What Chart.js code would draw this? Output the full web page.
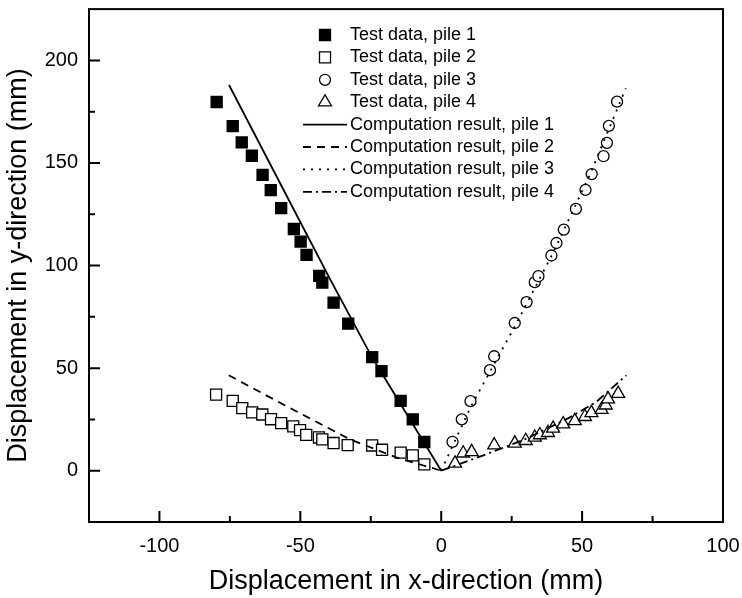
<!DOCTYPE html>
<html>
<head>
<meta charset="utf-8">
<title>Pile displacement</title>
<script src="https://cdn.jsdelivr.net/npm/chart.js@4.4.1/dist/chart.umd.min.js"></script>
<style>
  html, body { margin: 0; padding: 0; background: #fff; }
  canvas { display: block; }
</style>
</head>
<body>
<canvas id="chart" width="742" height="598"></canvas>
<script>
// measured test data (mm)
const pile1X = [-79.7, -74.0, -70.8, -67.2, -63.4, -60.5, -56.8, -52.3, -49.9, -47.8, -43.3, -42.2, -38.2, -33.0, -24.5, -21.2, -14.4, -10.1, -6.0];
const pile1Y = [179.7, 168.0, 160.0, 153.5, 144.2, 136.8, 128.0, 117.8, 111.7, 105.2, 95.0, 91.7, 81.9, 71.7, 55.4, 48.5, 34.0, 25.0, 14.0];
const pile2X = [-79.9, -74.0, -70.6, -67.1, -63.5, -60.4, -56.8, -52.5, -50.1, -47.9, -43.4, -42.2, -38.2, -33.2, -24.5, -21.0, -14.4, -10.1, -6.0];
const pile2Y = [37.1, 34.0, 30.5, 28.4, 27.4, 25.1, 23.2, 21.6, 19.8, 17.5, 16.2, 15.3, 13.5, 12.5, 12.3, 10.2, 8.8, 7.5, 3.1];
const pile3X = [4.0, 7.3, 10.4, 17.3, 18.8, 26.1, 30.3, 33.2, 34.5, 39.1, 40.9, 43.5, 47.8, 51.2, 53.4, 57.6, 58.8, 59.5, 62.4];
const pile3Y = [14.1, 25.0, 33.9, 49.0, 55.8, 72.0, 82.2, 91.9, 94.8, 104.9, 111.0, 117.5, 127.6, 136.9, 144.6, 153.3, 159.8, 168.1, 179.9];
const pile4X = [4.9, 7.8, 10.8, 18.8, 26.1, 30.0, 33.2, 35.0, 37.9, 39.7, 43.3, 47.4, 51.0, 53.3, 56.9, 58.4, 59.2, 62.8];
const pile4Y = [3.6, 8.5, 9.2, 12.5, 13.3, 14.6, 16.2, 17.4, 18.5, 20.6, 22.7, 24.3, 26.3, 28.2, 29.8, 31.9, 34.9, 37.6];

// computed curves
const comp1X = [-75.3, -52.7, -39.5, -24.6, 0];
const comp1Y = [188.0, 128.3, 93.5, 55.4, 0];
const comp2X = [-75.4, -54.0, -32.4, -16.0, 0];
const comp2Y = [46.5, 30.8, 15.3, 6.5, 0];
const comp3X = [0, 10.4, 26.0, 40.0, 53.0, 65.5];
const comp3Y = [0, 31.0, 70.0, 107.0, 145.0, 186.4];
const comp4X = [0, 15.0, 30.0, 45.0, 55.0, 65.7];
const comp4Y = [0, 7.5, 15.5, 25.5, 33.5, 46.5];

const xTicks = [-100, -50, 0, 50, 100];
const xMinorTicks = [-75, -25, 25, 75];
const yTicks = [0, 50, 100, 150, 200];
const yMinorTicks = [25, 75, 125, 175];

const legendLabels = [
  'Test data, pile 1', 'Test data, pile 2', 'Test data, pile 3', 'Test data, pile 4',
  'Computation result, pile 1', 'Computation result, pile 2',
  'Computation result, pile 3', 'Computation result, pile 4'
];

Chart.defaults.font.family = "'Liberation Sans', Arial, sans-serif";
Chart.defaults.color = '#000';

const toPoints = (xs, ys) => xs.map((x, i) => ({ x: x, y: ys[i] }));

function markerSet(label, xs, ys, style, radius, fill) {
  return {
    label: label,
    data: toPoints(xs, ys),
    showLine: false,
    pointStyle: style,
    pointRadius: radius,
    pointBackgroundColor: fill,
    pointBorderColor: '#000',
    pointBorderWidth: 1.3,
    order: 2
  };
}

function lineSet(label, xs, ys, dash) {
  return {
    label: label,
    data: toPoints(xs, ys),
    showLine: true,
    fill: false,
    pointRadius: 0,
    borderColor: '#000',
    borderWidth: 1.8,
    borderDash: dash,
    tension: 0,
    order: 1
  };
}

// legend drawn inside the plot, markers and line samples taken from the datasets
const legendBox = {
  id: 'legendBox',
  afterDatasetsDraw(chart, args, opts) {
    const ctx = chart.ctx;
    ctx.save();
    ctx.font = opts.fontSize + 'px ' + Chart.defaults.font.family;
    ctx.textBaseline = 'middle';
    chart.data.datasets.forEach((ds, i) => {
      const y = opts.top + i * opts.rowHeight;
      ctx.strokeStyle = '#000';
      if (ds.showLine) {
        ctx.lineWidth = ds.borderWidth;
        ctx.setLineDash(ds.borderDash || []);
        ctx.beginPath();
        ctx.moveTo(opts.lineStart, y);
        ctx.lineTo(opts.lineEnd, y);
        ctx.stroke();
        ctx.setLineDash([]);
      } else {
        ctx.fillStyle = ds.pointBackgroundColor;
        ctx.lineWidth = ds.pointBorderWidth;
        Chart.helpers.drawPoint(ctx, {
          pointStyle: ds.pointStyle,
          radius: ds.pointRadius,
          rotation: 0,
          borderWidth: ds.pointBorderWidth
        }, opts.markerX, y);
      }
      ctx.fillStyle = '#000';
      ctx.fillText(ds.label, opts.textX, y);
    });
    ctx.restore();
  }
};

// box frame with inward ticks
const frameTicks = {
  id: 'frameTicks',
  afterDraw(chart) {
    const ctx = chart.ctx;
    const a = chart.chartArea;
    const x = chart.scales.x;
    const y = chart.scales.y;
    ctx.save();
    ctx.strokeStyle = '#000';
    ctx.lineWidth = 2;
    ctx.strokeRect(a.left, a.top, a.right - a.left, a.bottom - a.top);
    ctx.beginPath();
    xTicks.forEach(v => { const p = x.getPixelForValue(v); ctx.moveTo(p, a.bottom); ctx.lineTo(p, a.bottom - 11); });
    xMinorTicks.forEach(v => { const p = x.getPixelForValue(v); ctx.moveTo(p, a.bottom); ctx.lineTo(p, a.bottom - 6); });
    yTicks.forEach(v => { const p = y.getPixelForValue(v); ctx.moveTo(a.left, p); ctx.lineTo(a.left + 11, p); });
    yMinorTicks.forEach(v => { const p = y.getPixelForValue(v); ctx.moveTo(a.left, p); ctx.lineTo(a.left + 6, p); });
    ctx.stroke();
    ctx.restore();
  }
};

new Chart(document.getElementById('chart'), {
  type: 'scatter',
  data: {
    datasets: [
      markerSet(legendLabels[0], pile1X, pile1Y, 'rect', 7.8, '#000'),
      markerSet(legendLabels[1], pile2X, pile2Y, 'rect', 7.8, '#fff'),
      markerSet(legendLabels[2], pile3X, pile3Y, 'circle', 5.5, '#fff'),
      markerSet(legendLabels[3], pile4X, pile4Y, 'triangle', 7.5, '#fff'),
      lineSet(legendLabels[4], comp1X, comp1Y, []),
      lineSet(legendLabels[5], comp2X, comp2Y, [8, 6]),
      lineSet(legendLabels[6], comp3X, comp3Y, [2, 6]),
      lineSet(legendLabels[7], comp4X, comp4Y, [9, 4, 2, 4])
    ]
  },
  options: {
    responsive: false,
    animation: false,
    devicePixelRatio: 1,
    layout: { padding: { left: 0, top: 7, right: 19, bottom: 0 } },
    plugins: {
      legend: { display: false },
      tooltip: { enabled: false },
      legendBox: { top: 35, rowHeight: 22.4, markerX: 325, lineStart: 303, lineEnd: 347, textX: 350, fontSize: 18 }
    },
    scales: {
      x: {
        type: 'linear',
        min: -125,
        max: 100,
        afterBuildTicks: s => { s.ticks = xTicks.map(v => ({ value: v })); },
        afterFit: s => { s.height = 76; s.paddingLeft = 0; s.paddingRight = 0; },
        grid: { display: false, drawTicks: false },
        border: { display: false },
        ticks: { font: { size: 20 }, padding: 12, maxRotation: 0, autoSkip: false },
        title: { display: true, text: 'Displacement in x-direction (mm)', font: { size: 27 }, padding: { top: 0, bottom: 0 } }
      },
      y: {
        type: 'linear',
        min: -25,
        max: 225,
        afterBuildTicks: s => { s.ticks = yTicks.map(v => ({ value: v })); },
        afterFit: s => { s.width = 89; s.paddingTop = 0; s.paddingBottom = 0; },
        grid: { display: false, drawTicks: false },
        border: { display: false },
        ticks: { font: { size: 20 }, padding: 11 },
        title: { display: true, text: 'Displacement in y-direction (mm)', font: { size: 27 }, padding: { top: 2, bottom: 0 } }
      }
    }
  },
  plugins: [legendBox, frameTicks]
});
</script>
</body>
</html>
